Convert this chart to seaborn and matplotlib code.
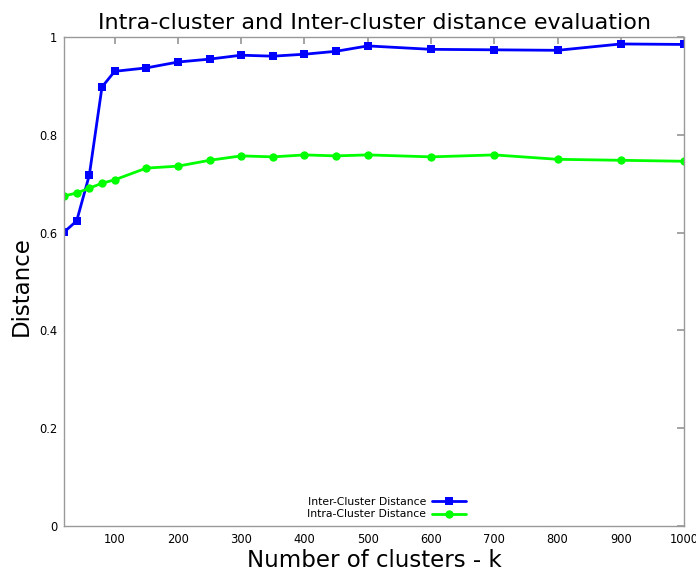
import pandas as pd
import seaborn as sns
import matplotlib
matplotlib.use('Agg')
import matplotlib.pyplot as plt

# Number of clusters k
clusters = [20, 40, 60, 80, 100, 150, 200, 250, 300, 350, 400, 450, 500,
            600, 700, 800, 900, 1000]
inter_dist = [0.601, 0.624, 0.718, 0.898, 0.930, 0.937, 0.949, 0.955, 0.963,
              0.961, 0.965, 0.971, 0.982, 0.975, 0.974, 0.973, 0.986, 0.985]
intra_dist = [0.675, 0.681, 0.691, 0.701, 0.708, 0.732, 0.736, 0.748, 0.757,
              0.755, 0.759, 0.757, 0.759, 0.755, 0.759, 0.750, 0.748, 0.746]
series_names = ['Inter-Cluster Distance', 'Intra-Cluster Distance']
y_ticks = [0, 0.2, 0.4, 0.6, 0.8, 1]
y_tick_labels = ['0', '0.2', '0.4', '0.6', '0.8', '1']

# Long-form table for seaborn.
df = pd.concat([
    pd.DataFrame({'k': clusters, 'dist': inter_dist, 'type': series_names[0]}),
    pd.DataFrame({'k': clusters, 'dist': intra_dist, 'type': series_names[1]}),
])

sns.set_theme(style='white')
plt.rcParams['font.family'] = ['DejaVu Sans']
plt.rcParams['text.color'] = 'black'
plt.rcParams['axes.labelcolor'] = 'black'

fig = plt.figure(figsize=(6.96, 5.71), dpi=100)
ax = fig.add_axes([0.092, 0.079, 0.891, 0.856])

colors = {series_names[0]: '#0000ff', series_names[1]: '#00ff00'}
g = sns.lineplot(data=df, x='k', y='dist', hue='type', style='type',
                 markers={series_names[0]: 's', series_names[1]: 'o'},
                 dashes=False, palette=colors, linewidth=2, markersize=6,
                 markeredgewidth=0, ax=ax)

g.set_xlim(20, 1000)
g.set_ylim(0, 1)
g.set_xticks(range(100, 1001, 100))
g.set_yticks(y_ticks)
g.set_yticklabels(y_tick_labels)
g.tick_params(direction='in', length=5, color='#999999', labelsize=8.3,
              labelcolor='black', top=True, right=True, pad=5)
for side in ax.spines.values():
    side.set_color('#999999')
    side.set_linewidth(1)

g.set_xlabel('Number of clusters - k', fontsize=16.5)
g.set_ylabel('Distance', fontsize=16.5)
ax.xaxis.set_label_coords(0.5, -0.047)
ax.yaxis.set_label_coords(-0.05, 0.49)
g.set_title('Intra-cluster and Inter-cluster distance evaluation', fontsize=16, pad=6)

# Legend: labels right-aligned, sample to the right.
handles, labels = g.get_legend_handles_labels()
leg = g.legend(handles=handles, labels=labels, loc='center',
               bbox_to_anchor=(0.52, 0.036), frameon=False, markerfirst=False,
               fontsize=7.8, handlelength=3.1, handletextpad=0.55,
               labelspacing=0.2)
for t in leg.get_texts():
    t.set_ha('right')
leg._legend_box.align = 'right'

fig.savefig('out.png', dpi=100)
